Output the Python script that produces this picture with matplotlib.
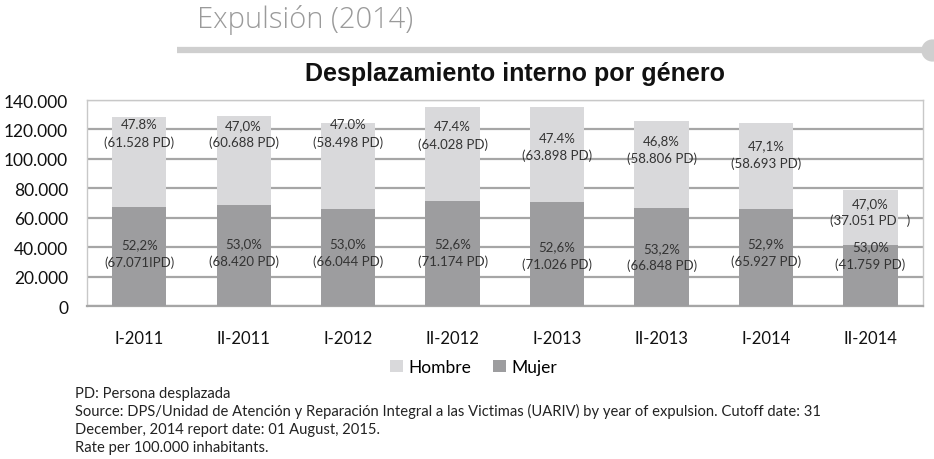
import matplotlib
matplotlib.use("Agg")
import matplotlib.pyplot as plt
import numpy as np

# data
periods = ["I-2011", "II-2011", "I-2012", "II-2012", "I-2013", "II-2013", "I-2014", "II-2014"]
mujer = [67071, 68420, 66044, 71174, 71026, 66848, 65927, 41759]
hombre = [61528, 60688, 58498, 64028, 63898, 58806, 58693, 37051]
mujer_pct = ["52,2%", "53,0%", "53,0%", "52,6%", "52,6%", "53,2%", "52,9%", "53,0%"]
hombre_pct = ["47.8%", "47,0%", "47.0%", "47.4%", "47.4%", "46,8%", "47,1%", "47,0%"]
mujer_pd = ["(67.071IPD)", "(68.420 PD)", "(66.044 PD)", "(71.174 PD)",
            "(71.026 PD)", "(66.848 PD)", "(65.927 PD)", "(41.759 PD)"]
hombre_pd = ["(61.528 PD)", "(60.688 PD)", "(58.498 PD)", "(64.028 PD)",
             "(63.898 PD)", "(58.806 PD)", "(58.693 PD)", "(37.051 PD   )"]
yticks = [0, 20000, 40000, 60000, 80000, 100000, 120000, 140000]

# where the labels sit (the original places them by hand)
hombre_lbl_y = [117600, 117100, 117600, 116300, 108300, 106700, 103400, 64300]
mujer_lbl_y = [36000, 36700, 36700, 36700, 34700, 33500, 36700, 34700]

c_hombre = "#d9d9db"
c_mujer = "#9d9d9f"
txt = "#333333"

fig = plt.figure(figsize=(9.34, 4.6), dpi=100)
ax = fig.add_axes([0.0931, 0.3326, 0.8949, 0.4478])

x = np.arange(len(periods))
b_m = ax.bar(x, mujer, width=0.52, color=c_mujer, label="Mujer", zorder=3)
b_h = ax.bar(x, hombre, width=0.52, bottom=mujer, color=c_hombre, label="Hombre", zorder=3)

for i in range(len(periods)):
    ax.text(x[i], hombre_lbl_y[i], hombre_pct[i] + "\n" + hombre_pd[i], ha="center", va="center",
            fontsize=9.5, color=txt, family="Lato", linespacing=1.45, zorder=4)
    ax.text(x[i], mujer_lbl_y[i], mujer_pct[i] + "\n" + mujer_pd[i], ha="center", va="center",
            fontsize=9.5, color=txt, family="Lato", linespacing=1.45, zorder=4)

ax.set_xlim(-0.5, len(periods) - 0.5)
ax.set_ylim(0, 140000)
ax.set_yticks(yticks)
ax.set_yticklabels([f"{v:,}".replace(",", ".") for v in yticks], family="Lato", fontsize=12.5, color="#111111")
ax.set_xticks(x)
ax.set_xticklabels(periods, family="Lato", fontsize=12, color="#111111")
ax.tick_params(axis="both", length=0)
ax.tick_params(axis="y", pad=13.5)
ax.tick_params(axis="x", pad=17.5)
ax.yaxis.grid(True, color="#a6a6a6", linewidth=1.6, zorder=0)
for s in ["top", "left", "right"]:
    ax.spines[s].set_color("#c8c8c8")
    ax.spines[s].set_linewidth(1.0)
ax.spines["bottom"].set_color("#a6a6a6")
ax.spines["bottom"].set_linewidth(1.6)

ax.legend(handles=[b_h, b_m], labels=["Hombre", "Mujer"], loc="center",
          bbox_to_anchor=(0.507, 0.2), bbox_transform=fig.transFigure, ncol=2, frameon=False,
          prop={"family": "Lato", "size": 12.5}, handlelength=0.75, handleheight=0.75,
          handletextpad=0.3, columnspacing=1.3)

# header
fig.text(0.211, 0.957, "Expulsión (2014)", fontsize=21, color="#9a9a9a", family="Open Sans",
         fontweight="light", va="center", ha="left")
fig.add_artist(plt.Line2D([0.19, 0.99], [0.889, 0.889], color="#cfcfcf", linewidth=4.5,
                          solid_capstyle="butt"))
fig.add_artist(plt.Line2D([0.9979], [0.889], marker="o", markersize=16, color="#cfcfcf",
                          markeredgewidth=0))
fig.text(0.551, 0.839, "Desplazamiento interno por género", fontsize=18, fontweight="bold",
         family="Liberation Sans", ha="center", va="center", color="#111111")

notes = ["PD: Persona desplazada",
         "Source: DPS/Unidad de Atención y Reparación Integral a las Victimas (UARIV) by year of expulsion. Cutoff date: 31",
         "December, 2014 report date: 01 August, 2015.",
         "Rate per 100.000 inhabitants."]
for k, line in enumerate(notes):
    fig.text(0.080, 0.1348 - k * 0.0391, line, fontsize=10.6, family="Lato", color="#222222",
             va="baseline")

plt.savefig("out.png", dpi=100)
